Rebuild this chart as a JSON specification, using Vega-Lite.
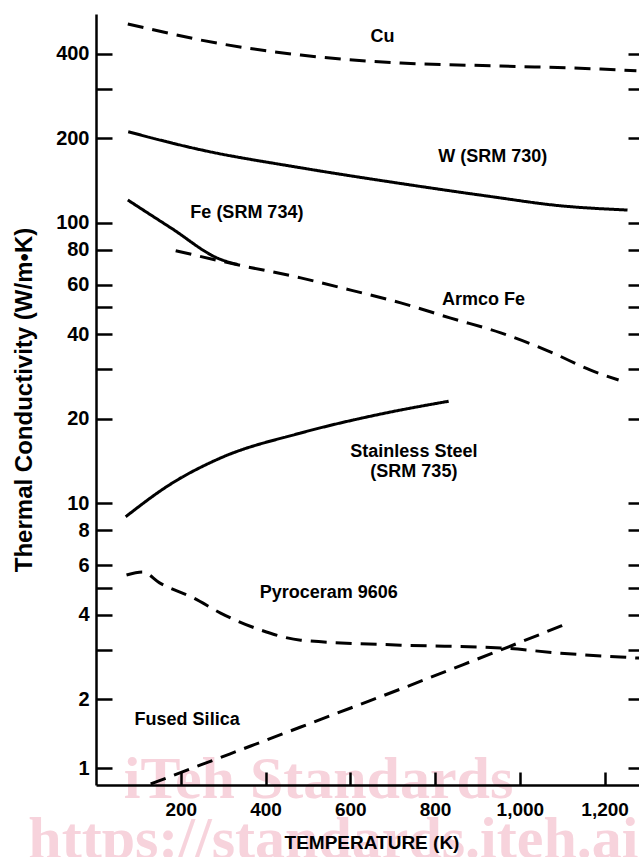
{
  "$schema": "https://vega.github.io/schema/vega-lite/v6.json",
  "width": 551,
  "height": 771,
  "autosize": {"type": "none"},
  "padding": {"left": 96, "top": 14, "right": 0, "bottom": 72},
  "background": "white",
  "config": {"view": {"stroke": null}, "axis": {"grid": false}},
  "datasets": {
    "curves": [
      {"series": "Cu", "T": 75, "k": 511}, {"series": "Cu", "T": 129, "k": 490}, {"series": "Cu", "T": 247, "k": 448}, {"series": "Cu", "T": 483, "k": 396}, {"series": "Cu", "T": 719, "k": 371}, {"series": "Cu", "T": 955, "k": 362}, {"series": "Cu", "T": 1191, "k": 353}, {"series": "Cu", "T": 1275, "k": 348},
      {"series": "W", "T": 76, "k": 211}, {"series": "W", "T": 247, "k": 182}, {"series": "W", "T": 483, "k": 157}, {"series": "W", "T": 719, "k": 138}, {"series": "W", "T": 931, "k": 124}, {"series": "W", "T": 1094, "k": 115}, {"series": "W", "T": 1254, "k": 111},
      {"series": "Fe", "T": 75, "k": 120.5}, {"series": "Fe", "T": 176, "k": 96}, {"series": "Fe", "T": 294, "k": 74}, {"series": "Fe", "T": 334, "k": 71},
      {"series": "Armco", "T": 188, "k": 79.5}, {"series": "Armco", "T": 334, "k": 70.8}, {"series": "Armco", "T": 483, "k": 63.6}, {"series": "Armco", "T": 601, "k": 57.5}, {"series": "Armco", "T": 719, "k": 51.8}, {"series": "Armco", "T": 837, "k": 45.7}, {"series": "Armco", "T": 955, "k": 40.5}, {"series": "Armco", "T": 1073, "k": 34.6}, {"series": "Armco", "T": 1167, "k": 29.8}, {"series": "Armco", "T": 1233, "k": 27.5},
      {"series": "SS", "T": 70, "k": 8.95}, {"series": "SS", "T": 176, "k": 11.7}, {"series": "SS", "T": 294, "k": 14.5}, {"series": "SS", "T": 483, "k": 17.8}, {"series": "SS", "T": 672, "k": 20.8}, {"series": "SS", "T": 832, "k": 23.1},
      {"series": "Pyro", "T": 72, "k": 5.55}, {"series": "Pyro", "T": 110, "k": 5.69}, {"series": "Pyro", "T": 150, "k": 5.2}, {"series": "Pyro", "T": 231, "k": 4.59}, {"series": "Pyro", "T": 294, "k": 4.06}, {"series": "Pyro", "T": 389, "k": 3.53}, {"series": "Pyro", "T": 483, "k": 3.25}, {"series": "Pyro", "T": 719, "k": 3.12}, {"series": "Pyro", "T": 955, "k": 3.05}, {"series": "Pyro", "T": 1096, "k": 2.92}, {"series": "Pyro", "T": 1237, "k": 2.83}, {"series": "Pyro", "T": 1290, "k": 2.8},
      {"series": "Fused", "T": 129, "k": 0.854}, {"series": "Fused", "T": 247, "k": 1.034}, {"series": "Fused", "T": 365, "k": 1.251}, {"series": "Fused", "T": 483, "k": 1.514}, {"series": "Fused", "T": 601, "k": 1.833}, {"series": "Fused", "T": 719, "k": 2.177}, {"series": "Fused", "T": 837, "k": 2.555}, {"series": "Fused", "T": 955, "k": 3.0}, {"series": "Fused", "T": 1103, "k": 3.68}
    ],
    "labels": [
      {"label": "Cu", "T": 676, "k": 459},
      {"label": "W (SRM 730)", "T": 936, "k": 171},
      {"label": "Fe (SRM 734)", "T": 356, "k": 108},
      {"label": "Armco Fe", "T": 914, "k": 53},
      {"label": "Stainless Steel", "T": 750, "k": 15.2},
      {"label": "(SRM 735)", "T": 750, "k": 12.9},
      {"label": "Pyroceram 9606", "T": 549, "k": 4.79},
      {"label": "Fused Silica", "T": 215, "k": 1.625}
    ],
    "watermark": [
      {"text": "iTeh Standards", "T": 525, "k": 0.889},
      {"text": "https://standards.iteh.ai", "T": 560, "k": 0.4866}
    ]
  },
  "encoding": {
    "x": {"field": "T", "type": "quantitative", "scale": {"domain": [0, 1300], "nice": false, "zero": false},
      "axis": {"orient": "bottom", "zindex": 1, "values": [200, 400, 600, 800, 1000, 1200], "format": ",d", "title": "TEMPERATURE (K)",
        "domainColor": "black", "domainWidth": 2.5, "tickColor": "black", "tickWidth": 2.5, "tickSize": -13,
        "labelFont": "Liberation Sans", "labelFontWeight": "bold", "labelFontSize": 19, "labelColor": "black", "labelPadding": 28,
        "titleFont": "Liberation Sans", "titleFontWeight": "bold", "titleFontSize": 19, "titleColor": "black", "titlePadding": 14}}
  },
  "layer": [
    {
      "data": {"name": "watermark"},
      "mark": {"type": "text", "font": "Liberation Serif", "fontWeight": "bold", "fontSize": 60, "color": "#f7d3dc", "align": "center", "baseline": "middle"},
      "encoding": {
        "y": {"field": "k", "type": "quantitative", "axis": null, "scale": {"type": "log", "domain": [0.8455, 1, 2, 554.8], "range": [771, 754.3, 685.3, 0], "nice": false, "zero": false}},
        "text": {"field": "text"}
      }
    },
    {
      "data": {"name": "curves"},
      "mark": {"type": "line", "color": "black", "strokeWidth": 3, "interpolate": "monotone", "strokeCap": "butt"},
      "encoding": {
        "y": {"field": "k", "type": "quantitative", "scale": {"type": "log", "domain": [0.8455, 1, 2, 554.8], "range": [771, 754.3, 685.3, 0], "nice": false, "zero": false},
          "axis": {"orient": "left", "zindex": 1, "values": [1, 2, 3, 4, 5, 6, 8, 10, 20, 30, 40, 50, 60, 80, 100, 200, 300, 400],
            "labelExpr": "indexof([3,5,30,50,300], datum.value) >= 0 ? '' : datum.label",
            "title": "Thermal Conductivity (W/m•K)",
            "domainColor": "black", "domainWidth": 2.5, "tickColor": "black", "tickWidth": 2.5, "tickSize": -16,
            "labelFont": "Liberation Sans", "labelFontWeight": "bold", "labelFontSize": 20, "labelColor": "black", "labelPadding": 23,
            "titleFont": "Liberation Sans", "titleFontWeight": "bold", "titleFontSize": 24, "titleColor": "black", "titlePadding": 19}},
        "strokeDash": {"field": "series", "type": "nominal", "legend": null,
          "scale": {"domain": ["Cu", "W", "Fe", "Armco", "SS", "Pyro", "Fused"], "range": [[16, 9], [1, 0], [1, 0], [16, 9], [1, 0], [16, 9], [16, 9]]}}
      }
    },
    {
      "data": {"name": "labels"},
      "mark": {"type": "text", "font": "Liberation Sans", "fontWeight": "bold", "fontSize": 18, "color": "black", "align": "center", "baseline": "middle"},
      "encoding": {
        "y": {"field": "k", "type": "quantitative", "scale": {"type": "log", "domain": [0.8455, 1, 2, 554.8], "range": [771, 754.3, 685.3, 0], "nice": false, "zero": false},
          "axis": {"orient": "right", "zindex": 1, "values": [1, 2, 3, 4, 5, 6, 8, 10, 20, 30, 40, 50, 60, 80, 100, 200, 300, 400], "labels": false, "domain": false, "title": null,
            "tickColor": "black", "tickWidth": 2.5, "tickSize": -19}},
        "text": {"field": "label"}
      }
    }
  ],
  "resolve": {"axis": {"y": "independent"}}
}
